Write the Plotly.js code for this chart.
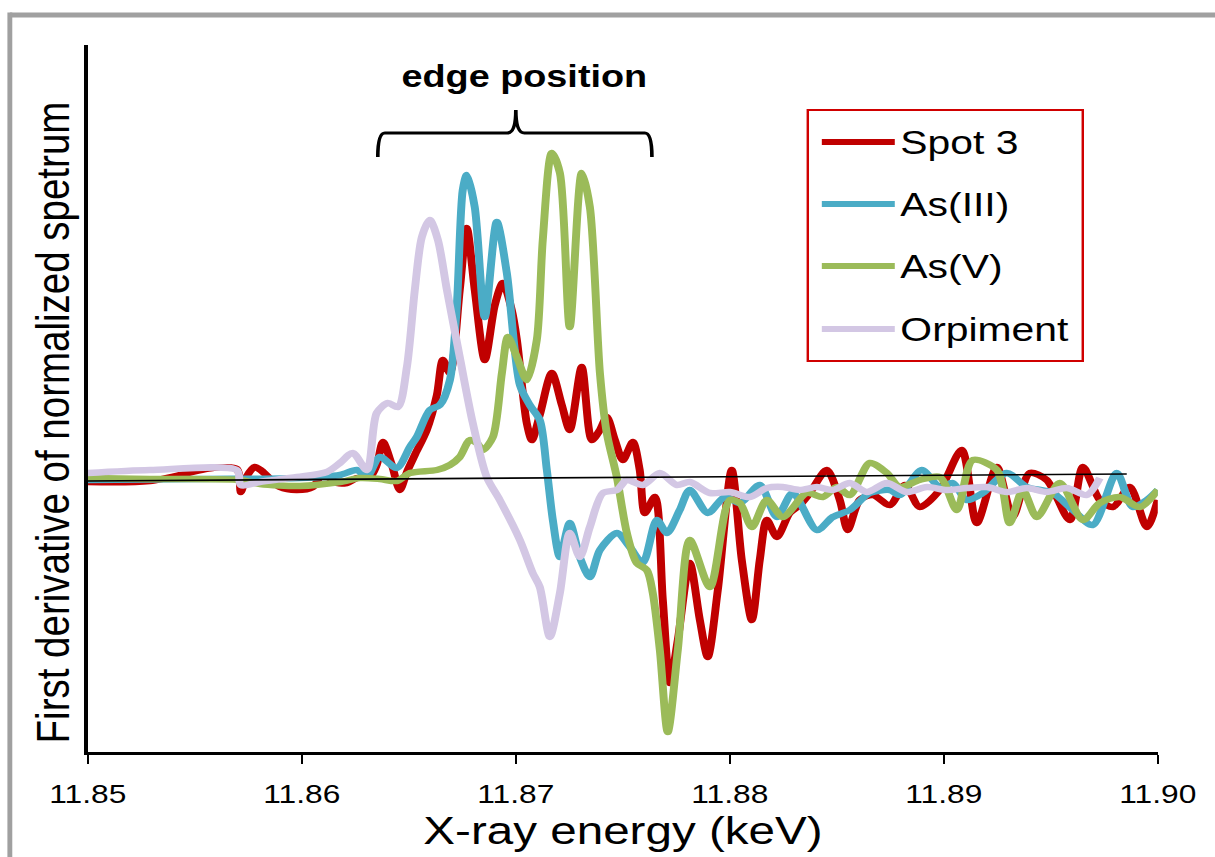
<!DOCTYPE html>
<html>
<head>
<meta charset="utf-8">
<script src="https://cdn.plot.ly/plotly-3.0.1.min.js"></script>
<style>
html,body{margin:0;padding:0;background:#fff;overflow:hidden}
#wrap{width:1215px;height:857px;overflow:hidden}
#chart{width:996px;height:857px;transform:scaleX(1.22);transform-origin:0 0}
</style>
</head>
<body>
<div id="wrap"><div id="chart"></div></div>
<script>
// ---- data (x: X-ray energy in keV, y: first derivative, arbitrary units) ----
const seriesNames  = ['Spot 3', 'As(III)', 'As(V)', 'Orpiment'];
const seriesColors = ['#C00000', '#4BACC6', '#9BBB59', '#D3C7E4'];

const spot3X = [11.85000,11.85290,11.85584,11.85696,11.85715,11.85738,11.85780,11.85813,11.85897,11.85977,11.86051,11.86098,11.86164,11.86210,11.86257,11.86318,11.86350,11.86379,11.86421,11.86458,11.86491,11.86528,11.86584,11.86631,11.86659,11.86692,11.86738,11.86771,11.86808,11.86855,11.86902,11.86939,11.86981,11.87005,11.87051,11.87075,11.87112,11.87168,11.87215,11.87252,11.87308,11.87355,11.87393,11.87425,11.87463,11.87500,11.87547,11.87579,11.87603,11.87650,11.87687,11.87720,11.87757,11.87813,11.87860,11.87897,11.87944,11.88009,11.88056,11.88103,11.88140,11.88173,11.88220,11.88280,11.88327,11.88374,11.88453,11.88514,11.88551,11.88607,11.88668,11.88748,11.88818,11.88888,11.88981,11.89084,11.89154,11.89248,11.89322,11.89402,11.89481,11.89589,11.89650,11.89729,11.89790,11.89869,11.89949,11.90000];
const spot3Y = [-0.02,-0.01,0.12,0.11,-0.12,0.02,0.13,0.09,-0.07,-0.10,-0.07,0.06,-0.03,-0.03,0.02,0.03,0.15,0.38,0.15,-0.10,0.08,0.25,0.50,0.85,1.20,1.07,1.90,2.52,1.90,1.20,1.75,1.97,1.70,1.40,0.57,0.40,0.65,1.07,0.75,0.50,1.13,0.40,0.50,0.63,0.40,0.20,0.38,0.10,-0.33,-0.17,-1.20,-2.03,-1.60,-0.83,-1.40,-1.77,-1.10,0.10,-0.80,-1.40,-0.80,-0.40,-0.57,-0.33,-0.25,-0.13,0.10,-0.20,-0.50,-0.20,-0.15,-0.25,-0.05,-0.27,-0.10,0.30,-0.43,0.13,-0.37,0.07,0.00,-0.40,0.13,-0.20,-0.27,-0.07,-0.47,-0.20];

const as3X = [11.85000,11.85523,11.85991,11.86178,11.86257,11.86304,11.86364,11.86444,11.86505,11.86537,11.86598,11.86645,11.86692,11.86724,11.86752,11.86771,11.86808,11.86855,11.86911,11.86958,11.87019,11.87065,11.87112,11.87145,11.87173,11.87206,11.87252,11.87299,11.87346,11.87393,11.87472,11.87533,11.87593,11.87659,11.87706,11.87766,11.87813,11.87897,11.87977,11.88047,11.88140,11.88220,11.88294,11.88407,11.88481,11.88561,11.88654,11.88748,11.88794,11.88897,11.88981,11.89042,11.89107,11.89182,11.89294,11.89388,11.89509,11.89603,11.89696,11.89808,11.89883,11.89949,11.90000];
const as3Y = [0.00,0.01,0.02,0.05,0.10,0.03,0.23,0.12,0.33,0.43,0.70,0.75,1.00,1.73,2.90,3.05,2.73,1.63,2.58,2.07,0.95,0.75,0.60,0.10,-0.40,-0.77,-0.43,-0.77,-0.97,-0.70,-0.53,-0.67,-0.83,-0.40,-0.53,-0.30,-0.10,-0.33,-0.17,-0.23,-0.05,-0.37,-0.13,-0.50,-0.37,-0.30,-0.13,-0.10,-0.15,0.10,-0.07,-0.03,-0.20,-0.13,0.07,-0.07,-0.13,-0.30,-0.45,0.07,-0.27,-0.20,-0.10];

const as5X = [11.85000,11.85290,11.85710,11.85804,11.85991,11.86178,11.86271,11.86364,11.86444,11.86505,11.86631,11.86692,11.86738,11.86785,11.86818,11.86846,11.86893,11.86935,11.86963,11.87005,11.87051,11.87098,11.87126,11.87168,11.87206,11.87252,11.87308,11.87346,11.87393,11.87425,11.87472,11.87519,11.87565,11.87612,11.87640,11.87673,11.87710,11.87757,11.87813,11.87907,11.88000,11.88047,11.88103,11.88173,11.88248,11.88360,11.88435,11.88500,11.88561,11.88654,11.88734,11.88794,11.88888,11.88981,11.89061,11.89136,11.89248,11.89308,11.89369,11.89435,11.89542,11.89650,11.89729,11.89822,11.89916,11.90000];
const as5Y = [0.02,0.01,0.00,-0.04,-0.06,-0.02,0.02,0.01,-0.01,0.07,0.10,0.15,0.23,0.40,0.37,0.30,0.43,1.07,1.43,1.23,1.00,1.40,2.40,3.27,3.07,1.53,3.07,2.73,1.07,0.47,0.03,-0.53,-0.83,-0.90,-1.13,-1.70,-2.52,-1.70,-0.60,-1.07,-0.20,-0.23,-0.47,-0.20,-0.37,-0.13,-0.17,-0.07,-0.15,0.17,0.07,-0.07,0.00,0.03,-0.30,0.20,0.10,-0.43,-0.10,-0.37,-0.03,-0.40,-0.23,-0.17,-0.27,-0.10];

const orpX = [11.85000,11.85290,11.85696,11.85715,11.85804,11.85977,11.86117,11.86178,11.86238,11.86304,11.86350,11.86402,11.86449,11.86491,11.86528,11.86561,11.86598,11.86636,11.86678,11.86738,11.86799,11.86864,11.86925,11.87019,11.87079,11.87112,11.87159,11.87206,11.87252,11.87299,11.87346,11.87407,11.87472,11.87519,11.87593,11.87673,11.87752,11.87813,11.87907,11.88000,11.88093,11.88173,11.88248,11.88327,11.88407,11.88481,11.88561,11.88640,11.88734,11.88827,11.88921,11.89014,11.89107,11.89201,11.89294,11.89388,11.89481,11.89575,11.89668,11.89729];
const orpY = [0.07,0.10,0.10,-0.05,-0.02,0.03,0.08,0.17,0.27,0.10,0.67,0.77,0.73,1.13,1.90,2.43,2.60,2.40,1.90,1.23,0.57,0.03,-0.20,-0.60,-0.93,-1.07,-1.57,-1.13,-0.53,-0.77,-0.47,-0.13,-0.10,0.00,-0.05,0.07,-0.05,-0.02,-0.13,-0.12,-0.17,-0.08,-0.07,-0.10,-0.07,-0.10,-0.03,-0.12,-0.03,-0.12,-0.07,-0.10,-0.08,-0.07,-0.12,-0.08,-0.12,-0.08,-0.15,0.02];

const baselineX = [11.85, 11.89855];
const baselineY = [-0.01, 0.06];

const energyTicks    = [11.85, 11.86, 11.87, 11.88, 11.89, 11.90];
const energyTickText = ['11.85', '11.86', '11.87', '11.88', '11.89', '11.90'];

const edgeBracket = {left: 11.86355, mid: 11.87, right: 11.87636, low: 3.23, bar: 3.47, tip: 3.70};

// ---- build ----
const FONT = 'Liberation Sans, Arial, Helvetica, sans-serif';
const xs = [spot3X, as3X, as5X, orpX];
const ys = [spot3Y, as3Y, as5Y, orpY];

const traces = seriesNames.map((n, i) => ({
  type: 'scatter', mode: 'lines', name: n,
  x: xs[i], y: ys[i],
  line: {color: seriesColors[i], width: 6.5, shape: 'spline', smoothing: 0.8},
  showlegend: false, hoverinfo: 'skip'
}));
traces.push({
  type: 'scatter', mode: 'lines', x: baselineX, y: baselineY,
  line: {color: '#000', width: 1.6}, showlegend: false, hoverinfo: 'skip'
});

const b = edgeBracket;
const dx = 0.00033;
const bracketPath =
  `M ${b.left},${b.low} Q ${b.left},${b.bar} ${b.left + dx},${b.bar} ` +
  `L ${b.mid - 0.0004},${b.bar} Q ${b.mid},${b.bar} ${b.mid},${b.tip} ` +
  `Q ${b.mid},${b.bar} ${b.mid + 0.0004},${b.bar} ` +
  `L ${b.right - dx},${b.bar} Q ${b.right},${b.bar} ${b.right},${b.low}`;

const shapes = [
  // outer gray frame of the picture
  {type: 'line', xref: 'paper', yref: 'paper', x0: -0.0729, x1: 1.06, y0: 1.0424, y1: 1.0424,
   line: {color: '#a0a0a0', width: 5}},
  {type: 'line', xref: 'paper', yref: 'paper', x0: -0.0729, x1: -0.0729, y0: 1.046, y1: -0.17,
   line: {color: '#a0a0a0', width: 4}},
  // bracket
  {type: 'path', xref: 'x', yref: 'y', path: bracketPath, line: {color: '#000', width: 3}},
  // legend box
  {type: 'rect', xref: 'paper', yref: 'paper', x0: 0.6729, x1: 0.9299, y0: 0.553, y1: 0.908,
   line: {color: '#D00000', width: 2}, fillcolor: 'rgba(255,255,255,1)'}
];
const legendY = [0.8628, 0.7751, 0.6874, 0.5983];
const annotations = [
  {xref: 'x', yref: 'y', x: 11.87042, y: 4.04, text: '<b>edge position</b>', showarrow: false,
   font: {family: FONT, size: 31, color: '#000'}, xanchor: 'center', yanchor: 'middle'},
  {xref: 'paper', yref: 'paper', x: -0.0325, y: 0.4668, text: 'First derivative of normalized spetrum',
   textangle: -90, showarrow: false, font: {family: FONT, size: 38.5, color: '#000'},
   xanchor: 'center', yanchor: 'middle'},
  {xref: 'paper', yref: 'paper', x: 0.5, y: -0.1105, text: 'X-ray energy (keV)', showarrow: false,
   font: {family: FONT, size: 39, color: '#000'}, xanchor: 'center', yanchor: 'middle'}
];
seriesNames.forEach((n, i) => {
  shapes.push({type: 'line', xref: 'paper', yref: 'paper', x0: 0.686, x1: 0.7542,
    y0: legendY[i], y1: legendY[i], line: {color: seriesColors[i], width: 6}});
  annotations.push({xref: 'paper', yref: 'paper', x: 0.7575, y: legendY[i], text: n, showarrow: false,
    font: {family: FONT, size: 33.5, color: '#000'}, xanchor: 'left', yanchor: 'middle'});
});

const layout = {
  width: 996, height: 857,
  margin: {l: 72.13, r: 46.8, t: 45, b: 105, pad: 0},
  paper_bgcolor: '#fff', plot_bgcolor: '#fff',
  font: {family: FONT, color: '#000'},
  showlegend: false,
  xaxis: {
    range: [11.85, 11.90], tickvals: energyTicks, ticktext: energyTickText,
    ticks: 'outside', ticklen: 9, tickwidth: 2, tickcolor: '#000',
    showline: true, linecolor: '#000', linewidth: 3, showgrid: false, zeroline: false,
    tickfont: {family: FONT, size: 26, color: '#000'}, ticklabelstandoff: 8
  },
  yaxis: {
    range: [-2.72, 4.35], showticklabels: false, ticks: '',
    showline: true, linecolor: '#000', linewidth: 3, showgrid: false, zeroline: false
  },
  shapes: shapes,
  annotations: annotations
};

Plotly.newPlot('chart', traces, layout, {staticPlot: true, displayModeBar: false});
</script>
</body>
</html>
